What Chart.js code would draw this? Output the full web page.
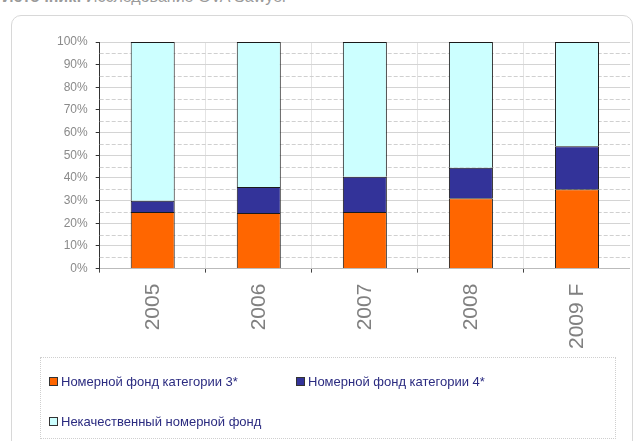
<!DOCTYPE html>
<html>
<head>
<meta charset="utf-8">
<script src="https://cdn.jsdelivr.net/npm/chart.js@4"></script>
<style>
  body { margin: 0; background: #fff; font-family: Arial, "Liberation Sans", sans-serif; }
  #wrap { position: relative; width: 635px; height: 441px; overflow: hidden; }
  #src { position: absolute; left: 2px; top: -12px; font-size: 16px; color: #9a9a9a; white-space: nowrap; }
  #frame { position: absolute; left: 11px; top: 15px; width: 620px; height: 440px; border: 1px solid #d8d8d8; border-radius: 10px; }
  #box { position: absolute; left: 0; top: 0; width: 630px; height: 360px; }
  #legend { position: absolute; left: 40px; top: 357px; width: 574px; height: 80px; border: 1px dotted #cfcfcf; }
  .item { position: absolute; font-size: 13px; color: #2b2b80; white-space: nowrap; }
  .sw { display: inline-block; width: 7px; height: 7px; border: 1px solid #333; margin-right: 3px; vertical-align: 0px; }
</style>
</head>
<body>
<div id="wrap">
  <div id="src"><b>Источник:</b> Исследование GVA Sawyer</div>
  <div id="frame"></div>
  <div id="box"><canvas id="myChart"></canvas></div>
  <div id="legend"></div>
</div>
<script>
const years = ['2005', '2006', '2007', '2008', '2009 F'];
const cat3 = [25, 24.5, 25, 31, 35];
const cat4 = [5, 11.5, 15.5, 13.5, 19];
const poor = [70, 64, 59.5, 55.5, 46];
const names = ['Номерной фонд категории 3*', 'Номерной фонд категории 4*', 'Некачественный номерной фонд'];
const colors = ['#ff6600', '#333399', '#ccffff'];
const yTicks = [0, 10, 20, 30, 40, 50, 60, 70, 80, 90, 100];

const ctx = document.getElementById('myChart').getContext('2d');
const myChart = new Chart(ctx, {
    type: 'bar',
    data: {
        labels: years,
        datasets: [cat3, cat4, poor].map((d, i) => ({
            label: names[i],
            data: d,
            backgroundColor: colors[i],
            borderColor: '#1a1a1a',
            borderWidth: 1,
            barPercentage: 0.415,
            categoryPercentage: 1
        }))
    },
    options: {
        responsive: true,
        maintainAspectRatio: false,
        animation: false,
        layout: { padding: { left: 49, right: 0, top: 42, bottom: 0 } },
        plugins: {
            legend: { display: false },
            tooltip: { enabled: false }
        },
        scales: {
            x: {
                stacked: true,
                grid: { color: '#e4e4e4', tickLength: 4, tickColor: '#444' },
                border: { color: '#bbb' },
                ticks: {
                    minRotation: 90, maxRotation: 90, padding: 11,
                    color: '#808080', font: { family: 'Arial', size: 21 }
                }
            },
            y: {
                stacked: true,
                min: 0, max: 100,
                afterBuildTicks: axis => { axis.ticks = yTicks.map(v => ({ value: v })); },
                grid: { color: '#d4d4d4', tickLength: 4, tickColor: '#333' },
                border: { color: '#333' },
                ticks: {
                    callback: v => v + '%', padding: 8,
                    color: '#8a8a8a', font: { family: 'Arial', size: 12 }
                }
            }
        }
    },
    plugins: [{
        id: 'dashGrid',
        beforeDatasetsDraw(chart) {
            const { ctx, chartArea: a, scales: { y } } = chart;
            ctx.save();
            ctx.strokeStyle = '#d0d0d0';
            ctx.setLineDash([4, 2]);
            ctx.lineWidth = 1;
            for (let v = 5; v < 100; v += 10) {
                const py = Math.round(y.getPixelForValue(v)) + 0.5;
                ctx.beginPath(); ctx.moveTo(a.left, py); ctx.lineTo(a.right, py); ctx.stroke();
            }
            ctx.restore();
        }
    }]
});

const legend = document.getElementById('legend');
const pos = [[8, 16], [255, 16], [8, 56]];
names.forEach((n, i) => {
    const el = document.createElement('div');
    el.className = 'item';
    el.style.left = pos[i][0] + 'px';
    el.style.top = pos[i][1] + 'px';
    el.innerHTML = '<span class="sw" style="background:' + colors[i] + '"></span>' + n;
    legend.appendChild(el);
});
</script>
</body>
</html>
